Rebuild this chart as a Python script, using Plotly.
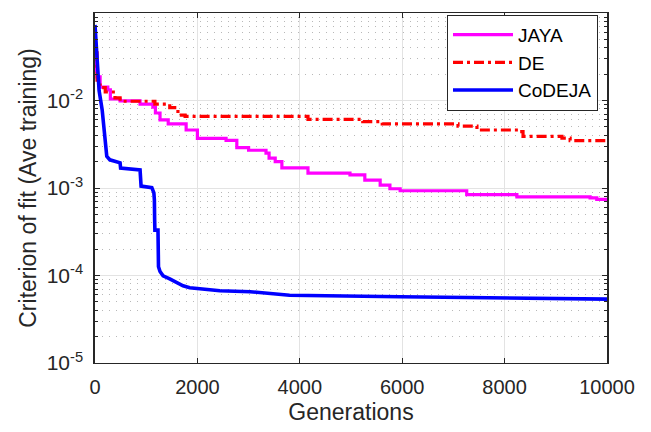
import plotly.graph_objects as go

jaya_gen = [0, 20, 40, 100, 250, 300, 490, 880, 1130, 1180, 1270, 1430, 1780, 2000, 2560, 2770,
            3000, 3340, 3400, 3520, 3650, 4160, 4980, 5270, 5570, 5760, 5960, 7260, 8240, 9670, 9800, 10000]
jaya_val = [0.035, 0.022, 0.0186, 0.0142, 0.0132, 0.0104, 0.0099, 0.0091, 0.0084, 0.0072, 0.0060, 0.0054,
            0.0046, 0.0037, 0.0035, 0.0029, 0.0027, 0.0025, 0.0022, 0.0020, 0.0017, 0.00148, 0.00141,
            0.00123, 0.00108, 0.00098, 0.00093, 0.00084, 0.00079, 0.00077, 0.00074, 0.00073]

de_gen = [0, 40, 100, 200, 390, 490, 1170, 1460, 1620, 1760, 4160, 5230, 5610, 7090, 7460, 8270,
          8360, 9120, 9280, 10000]
de_val = [0.035, 0.015, 0.014, 0.0125, 0.0107, 0.0098, 0.0091, 0.0083, 0.0068, 0.0066, 0.0061,
          0.00574, 0.0054, 0.0051, 0.0046, 0.0044, 0.0039, 0.00372, 0.00348, 0.00348]

codeja_gen = [0, 20, 40, 80, 140, 180, 200, 230, 290, 490, 500, 880, 900, 1110, 1150, 1160, 1165,
              1170, 1230, 1240, 1270, 1330, 1460, 1720, 1850, 2440, 3030, 3800, 5960, 10000]
codeja_val = [0.073, 0.049, 0.029, 0.013, 0.0078, 0.0046, 0.0031, 0.0023, 0.0021, 0.00194, 0.00169,
              0.00161, 0.00105, 0.00101, 0.00088, 0.00073, 0.00043, 0.00033, 0.00033, 0.000126,
              0.000111, 0.000099, 0.0000913, 0.0000763, 0.0000726, 0.0000670, 0.0000653, 0.0000595,
              0.0000571, 0.0000537]

x_ticks = [0, 2000, 4000, 6000, 8000, 10000]
y_exponents = [-5, -4, -3, -2, -1]

fig = go.Figure()
fig.add_trace(go.Scatter(x=jaya_gen, y=jaya_val, mode="lines", name="JAYA", line_shape="hv",
                         line=dict(color="#ff00ff", width=3.2)))
fig.add_trace(go.Scatter(x=de_gen, y=de_val, mode="lines", name="DE", line_shape="hv",
                         line=dict(color="#ff0000", width=3.2, dash="10px,4px,3px,4px")))
fig.add_trace(go.Scatter(x=codeja_gen, y=codeja_val, mode="lines", name="CoDEJA",
                         line=dict(color="#0000ff", width=3.6)))

axis_col = "#262626"
minor_vals = [k * 10.0 ** e for e in range(-5, -1) for k in range(2, 10)]

fig.update_layout(
    width=651, height=432,
    margin=dict(l=95, r=44, t=13, b=69),
    paper_bgcolor="white", plot_bgcolor="white",
    font=dict(family="Liberation Sans, Arial, sans-serif", size=20, color=axis_col),
    showlegend=True,
    legend=dict(x=0.6875, y=0.995, xanchor="left", yanchor="top",
                bordercolor=axis_col, borderwidth=1, bgcolor="white", itemwidth=60,
                font=dict(size=19, color="#000000"), tracegroupgap=0),
    xaxis=dict(range=[0, 10000], tickvals=x_ticks, ticktext=[str(v) for v in x_ticks],
               showline=True, linecolor=axis_col, linewidth=1, mirror="ticks",
               ticks="inside", ticklen=5, tickcolor=axis_col, ticklabelstandoff=6,
               tickfont=dict(size=20),
               showgrid=True, gridcolor="#e3e3e3", gridwidth=1, zeroline=False,
               title=dict(text="Generations", font=dict(size=23), standoff=6)),
    yaxis=dict(type="log", range=[-5, -1],
               tickvals=[10.0 ** e for e in y_exponents],
               ticktext=["10<sup>%d</sup>" % e for e in y_exponents],
               showline=True, linecolor=axis_col, linewidth=1.5, mirror="ticks",
               ticks="inside", ticklen=5, tickcolor=axis_col, ticklabelstandoff=6,
               tickfont=dict(size=21),
               showgrid=True, gridcolor="#e3e3e3", gridwidth=1, zeroline=False,
               minor=dict(tickmode="array", tickvals=minor_vals, ticks="inside", ticklen=3,
                          tickcolor=axis_col, showgrid=True, gridcolor="#b8b8b8",
                          griddash="1px,6px", gridwidth=1),
               title=dict(text="Criterion of fit (Ave training)", font=dict(size=23), standoff=4)),
)

fig.write_html("out.html")
